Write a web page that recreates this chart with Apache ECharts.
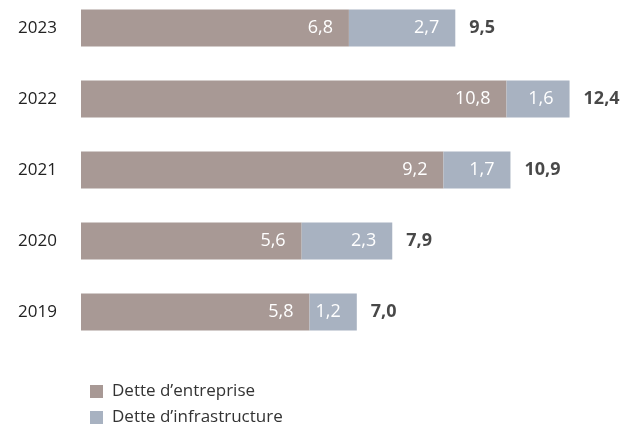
<!DOCTYPE html>
<html><head><meta charset="utf-8">
<script src="https://cdn.jsdelivr.net/npm/echarts@6/dist/echarts.min.js"></script>
<style>html,body{margin:0;padding:0;background:#fff}#c{width:636px;height:425px}</style>
</head><body><div id="c"></div>
<script>
const years = ['2019','2020','2021','2022','2023'];
const entreprise = [5.8, 5.6, 9.2, 10.8, 6.8];
const infrastructure = [1.2, 2.3, 1.7, 1.6, 2.7];
const totals = [7.0, 7.9, 10.9, 12.4, 9.5];
const seriesNames = ['Dette d\u2019entreprise', 'Dette d\u2019infrastructure'];

const fmt = v => v.toFixed(1).replace('.', ',');
const FONT = 'Open Sans';
const chart = echarts.init(document.getElementById('c'));
chart.setOption({
  animation: false,
  textStyle: { fontFamily: FONT },
  grid: { left: 81, top: 28, width: 551.6, height: 284 },
  xAxis: { type: 'value', min: 0, max: 14, show: false },
  yAxis: {
    type: 'category', data: years, boundaryGap: false,
    axisLine: { show: false }, axisTick: { show: false },
    axisLabel: { color: '#222', fontSize: 17, margin: 24, fontFamily: FONT }
  },
  legend: {
    orient: 'vertical', left: 85, top: 377, height: 60, itemWidth: 13, itemHeight: 13, itemGap: 7,
    icon: 'rect',
    textStyle: { color: '#333', fontSize: 17, lineHeight: 19, fontFamily: FONT, padding: [0, 0, 0, 4] },
    data: seriesNames
  },
  series: [
    {
      name: seriesNames[0], type: 'bar', stack: 't', barWidth: 37,
      itemStyle: { color: '#a89995' },
      label: { show: true, position: 'insideRight', distance: 16, color: '#fff', fontSize: 18, fontFamily: FONT,
        formatter: p => fmt(p.value) },
      data: entreprise
    },
    {
      name: seriesNames[1], type: 'bar', stack: 't', barWidth: 37,
      itemStyle: { color: '#a8b2c1' },
      label: { show: true, position: 'insideRight', distance: 16, color: '#fff', fontSize: 18, fontFamily: FONT,
        formatter: p => fmt(p.value) },
      data: infrastructure
    },
    {
      name: 'total', type: 'scatter', symbolSize: 0, silent: true,
      label: { show: true, position: 'right', distance: 14, color: '#1a1a1a', fontSize: 18, fontWeight: 'bold', fontFamily: FONT,
        formatter: p => fmt(p.value[0]) },
      data: totals.map((t, i) => [t, years[i]])
    }
  ]
});
</script></body></html>
